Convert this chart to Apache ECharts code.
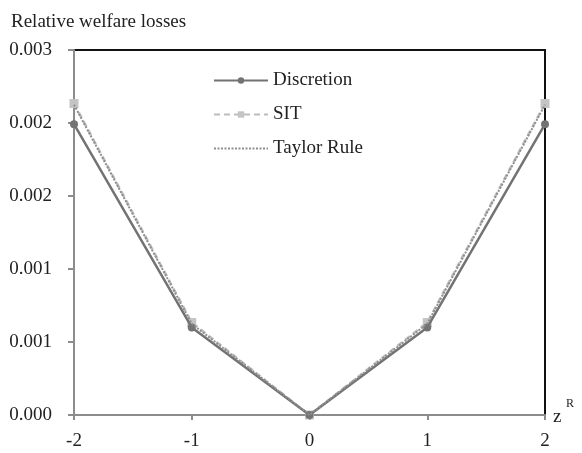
<!DOCTYPE html>
<html>
<head>
<meta charset="utf-8">
<script src="https://cdn.jsdelivr.net/npm/echarts@6/dist/echarts.min.js"></script>
<style>html,body{margin:0;padding:0;background:#fff}#c{width:582px;height:453px}</style>
</head>
<body>
<div id="c"></div>
<script>
var xValues = [-2, -1, 0, 1, 2];
var discretion = [0.00239, 0.00072, 0, 0.00072, 0.00239];
var sit = [0.00256, 0.00076, 0, 0.00076, 0.00256];
var taylor = [0.00255, 0.00075, 0, 0.00075, 0.00255];
var yTitle = 'Relative welfare losses';
var xName = 'z';
var xNameSup = 'R';

function pairs(v){ return xValues.map(function(x,i){ return [x, v[i]]; }); }

var FONT = '"Liberation Serif", "Times New Roman", serif';
var chart = echarts.init(document.getElementById('c'));
chart.setOption({
  animation: false,
  backgroundColor: '#fff',
  title: {
    text: yTitle, left: 6, top: 8,
    textStyle: {fontFamily: FONT, fontSize: 19, fontWeight: 'normal', color: '#222'}
  },
  grid: {left: 74, right: 37, top: 50, bottom: 38, show: true, borderColor: '#111', borderWidth: 2, backgroundColor: 'transparent'},
  legend: {
    orient: 'vertical', left: 208, top: 66,
    itemWidth: 54, itemHeight: 8, itemGap: 15,
    textStyle: {fontFamily: FONT, fontSize: 19, color: '#222'},
    data: ['Discretion', 'SIT', 'Taylor Rule']
  },
  graphic: [
    {type: 'text', left: 553, top: 408, style: {text: xName, font: '19px ' + FONT, fill: '#222'}},
    {type: 'text', left: 566, top: 398, style: {text: xNameSup, font: '12px ' + FONT, fill: '#222'}}
  ],
  xAxis: {
    type: 'value', min: -2, max: 2, interval: 1,
    axisLine: {onZero: false, lineStyle: {color: '#8c8c8c', width: 2}},
    axisTick: {show: true, length: 5, lineStyle: {color: '#8c8c8c', width: 2}},
    axisLabel: {fontFamily: FONT, fontSize: 19, color: '#222', margin: 17},
    splitLine: {show: false}
  },
  yAxis: {
    type: 'value', min: 0, max: 0.003, interval: 0.0006,
    axisLine: {show: true, onZero: false, lineStyle: {color: '#8c8c8c', width: 2}},
    axisTick: {show: true, length: 6, lineStyle: {color: '#8c8c8c', width: 2}},
    axisLabel: {fontFamily: FONT, fontSize: 19, color: '#222', margin: 22, formatter: function(v){ return v.toFixed(3); }},
    splitLine: {show: false}
  },
  series: [
    {name: 'Discretion', type: 'line', data: pairs(discretion), symbol: 'circle', symbolSize: 8,
     lineStyle: {color: '#737373', width: 2.5}, itemStyle: {color: '#737373'}, z: 3},
    {name: 'SIT', type: 'line', data: pairs(sit), symbol: 'rect', symbolSize: 9,
     lineStyle: {color: '#bdbdbd', width: 2.5, type: [6, 4]}, itemStyle: {color: '#c4c4c4'}, z: 2},
    {name: 'Taylor Rule', type: 'line', data: pairs(taylor), symbol: 'none',
     lineStyle: {color: '#8e8e8e', width: 2, type: [2, 1.5]}, itemStyle: {color: 'rgba(0,0,0,0)'}, z: 4}
  ]
});
</script>
</body>
</html>
